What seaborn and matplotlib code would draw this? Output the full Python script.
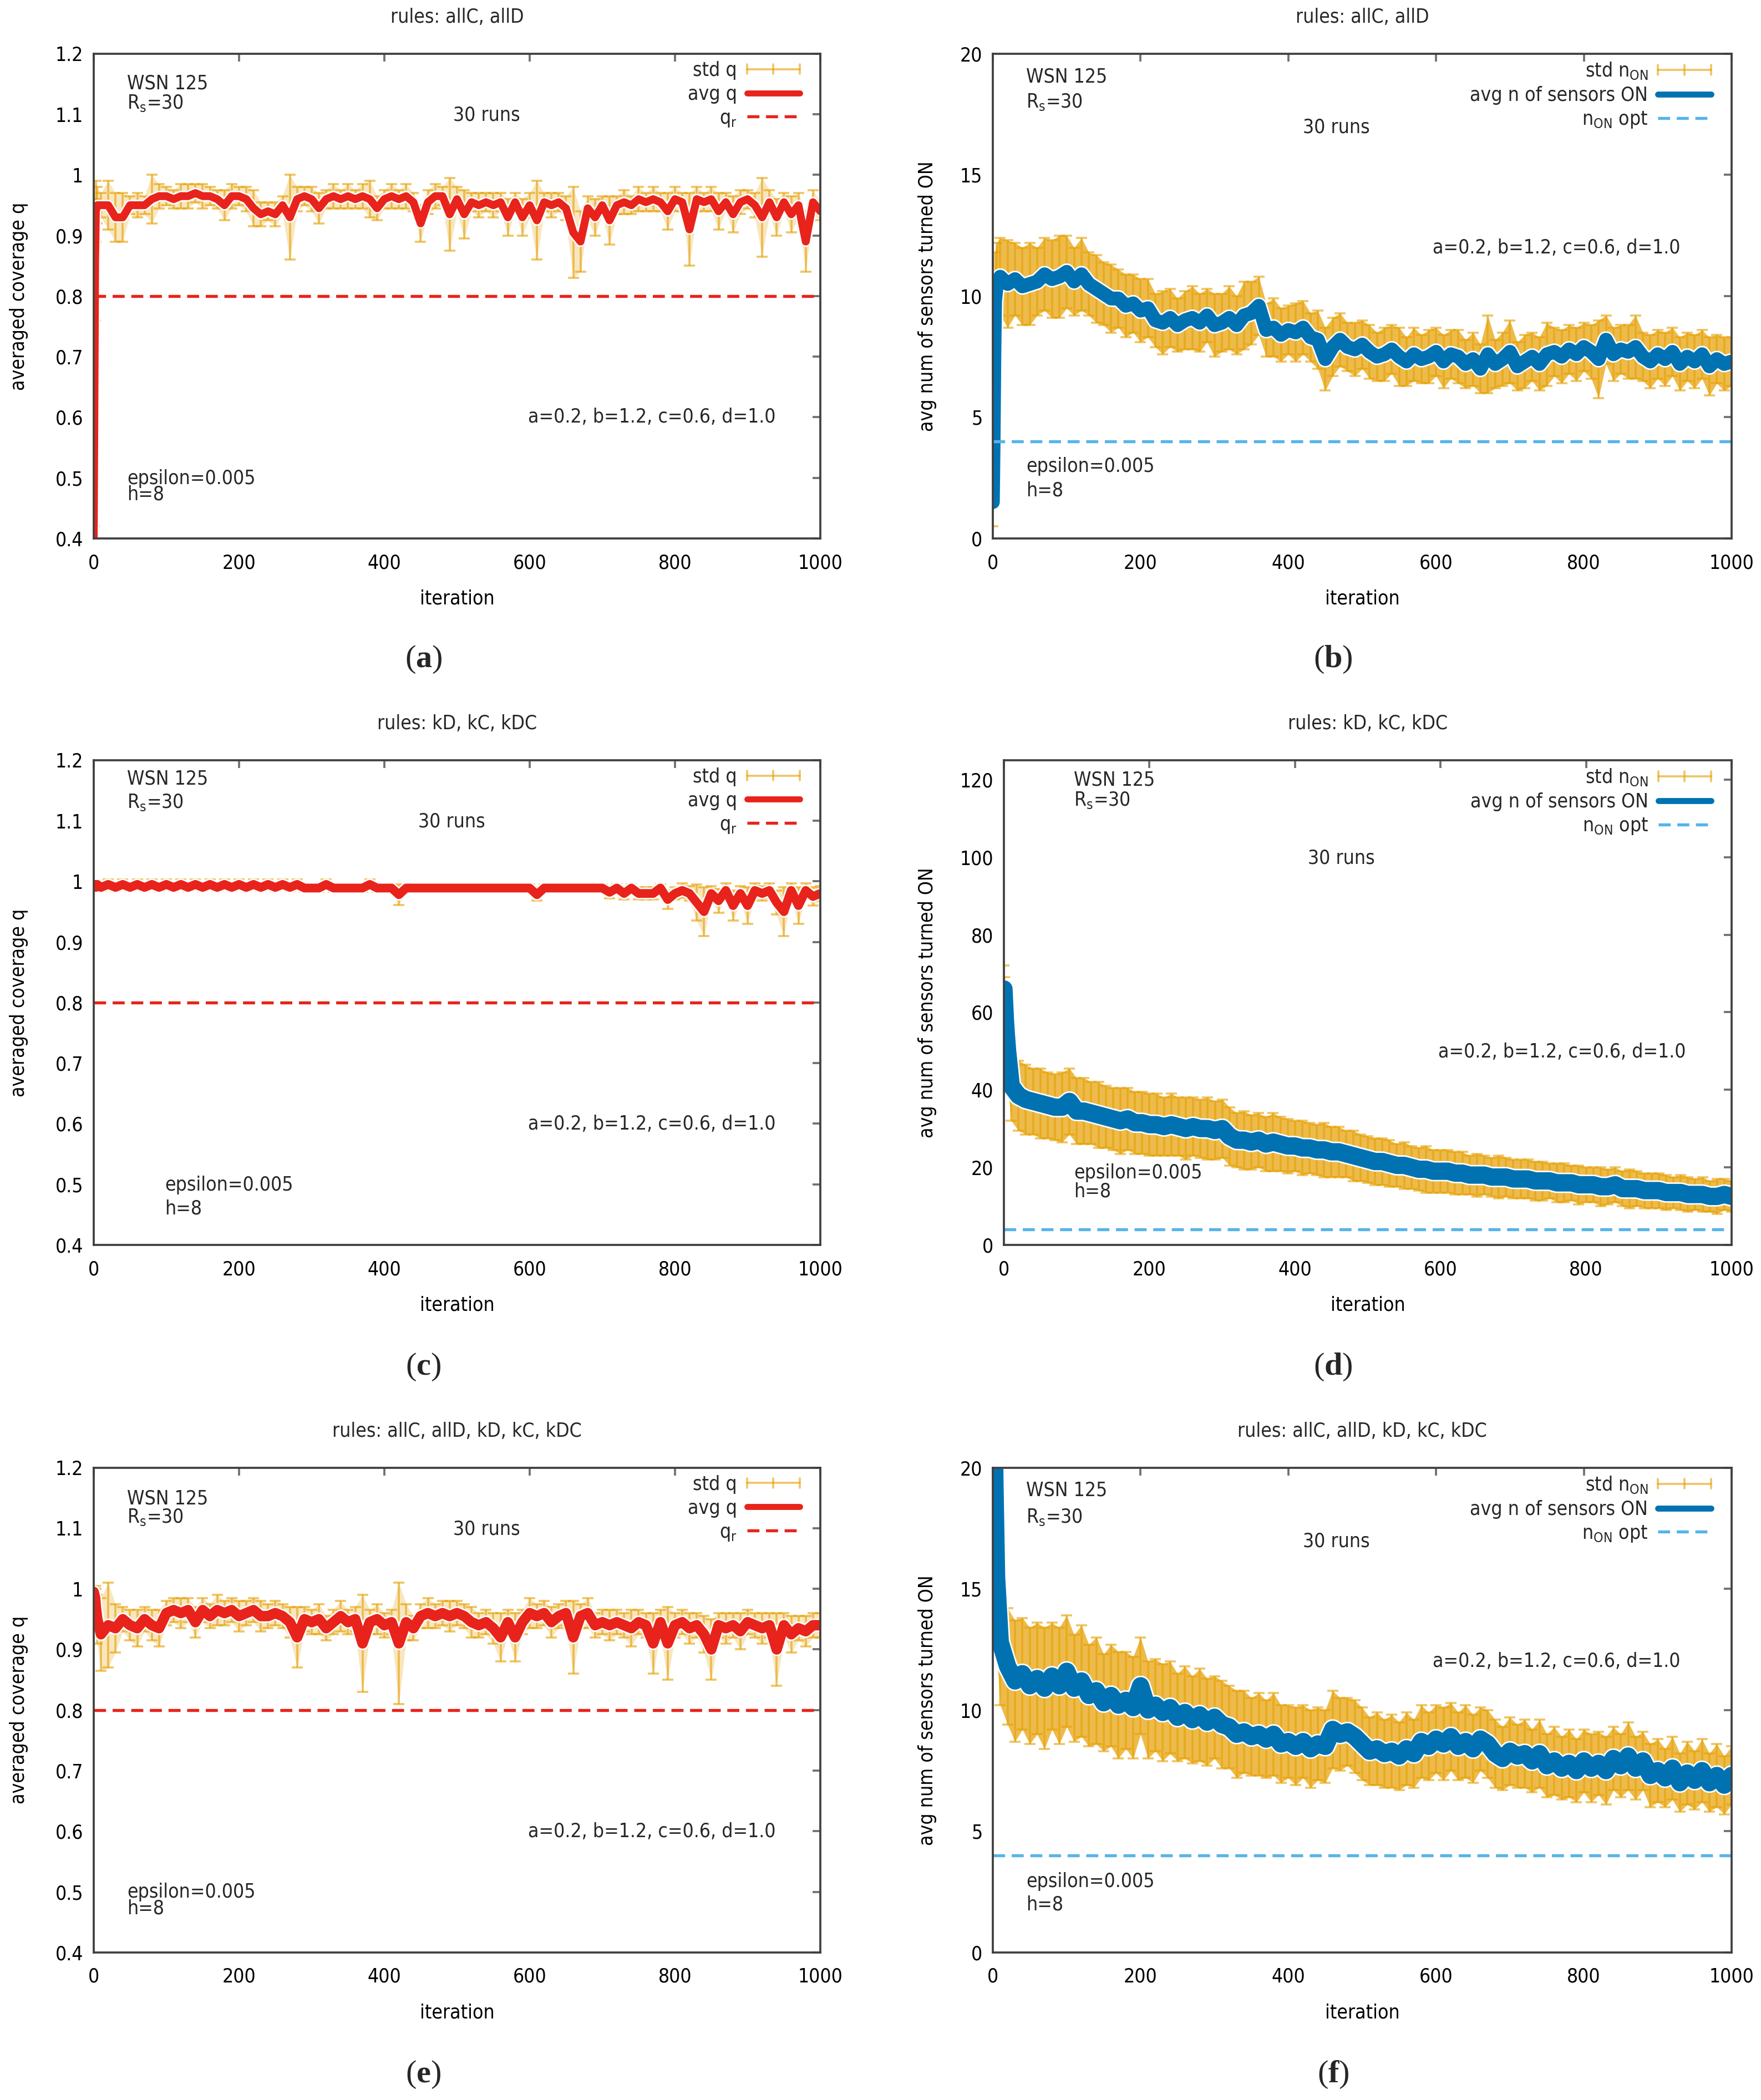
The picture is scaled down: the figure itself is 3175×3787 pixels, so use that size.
import numpy as np
import pandas as pd
import seaborn as sns
import matplotlib
matplotlib.use("Agg")
import matplotlib.pyplot as plt
from matplotlib.lines import Line2D
from matplotlib.legend_handler import HandlerBase
import matplotlib.patheffects as pe

# ---------------- data ----------------
ITER = [0, 1, 2, 3, 5] + list(range(10, 1001, 10))

A_MEAN = [0.38, 0.62, 0.86, 0.94, 0.95,
          0.95, 0.95, 0.93, 0.93, 0.95, 0.95, 0.95, 0.96, 0.965, 0.965,
          0.96, 0.965, 0.965, 0.97, 0.965, 0.965, 0.96, 0.95, 0.965, 0.965,
          0.96, 0.945, 0.935, 0.94, 0.935, 0.95, 0.93, 0.96, 0.965, 0.96,
          0.945, 0.96, 0.965, 0.96, 0.965, 0.96, 0.965, 0.96, 0.945, 0.96,
          0.965, 0.96, 0.965, 0.955, 0.92, 0.955, 0.965, 0.965, 0.935, 0.96,
          0.935, 0.955, 0.95, 0.955, 0.95, 0.955, 0.93, 0.955, 0.93, 0.95,
          0.925, 0.955, 0.95, 0.955, 0.945, 0.905, 0.89, 0.945, 0.93, 0.95,
          0.925, 0.95, 0.955, 0.95, 0.96, 0.955, 0.96, 0.955, 0.94, 0.96,
          0.955, 0.91, 0.96, 0.955, 0.96, 0.94, 0.955, 0.935, 0.955, 0.96,
          0.95, 0.93, 0.955, 0.93, 0.955, 0.935, 0.95, 0.89, 0.955, 0.94]
A_STD = [0.06, 0.2, 0.1, 0.05, 0.03,
         0.02, 0.04, 0.04, 0.04, 0.015, 0.02, 0.015, 0.04, 0.02, 0.015,
         0.015, 0.02, 0.02, 0.015, 0.02, 0.015, 0.015, 0.025, 0.02, 0.015,
         0.02, 0.03, 0.02, 0.015, 0.02, 0.015, 0.07, 0.02, 0.015, 0.02,
         0.025, 0.015, 0.02, 0.015, 0.02, 0.015, 0.02, 0.03, 0.02, 0.015,
         0.02, 0.015, 0.02, 0.015, 0.03, 0.02, 0.02, 0.015, 0.06, 0.02,
         0.04, 0.015, 0.02, 0.015, 0.02, 0.015, 0.03, 0.015, 0.03, 0.02,
         0.065, 0.015, 0.02, 0.015, 0.02, 0.075, 0.05, 0.02, 0.03, 0.015,
         0.04, 0.015, 0.02, 0.015, 0.02, 0.015, 0.02, 0.015, 0.03, 0.02,
         0.015, 0.06, 0.02, 0.015, 0.02, 0.03, 0.015, 0.03, 0.02, 0.015,
         0.02, 0.065, 0.02, 0.03, 0.015, 0.03, 0.02, 0.05, 0.02, 0.015]

B_MEAN = [1.5, 4.0, 7.5, 9.8, 10.4,
          10.8, 10.5, 10.7, 10.4, 10.5, 10.6, 10.9, 10.7, 10.8, 11.0,
          10.6, 10.9, 10.5, 10.3, 10.1, 9.9, 9.9, 9.6, 9.7, 9.4,
          9.5, 9.0, 8.9, 9.1, 8.8, 9.0, 9.1, 8.9, 9.2, 8.8,
          8.9, 9.1, 8.8, 9.2, 9.3, 9.6, 8.6, 8.7, 8.4, 8.6,
          8.5, 8.7, 8.3, 8.2, 7.4, 7.9, 8.2, 7.9, 7.8, 8.0,
          7.7, 7.5, 7.6, 7.8, 7.5, 7.3, 7.6, 7.4, 7.5, 7.7,
          7.3, 7.6, 7.5, 7.2, 7.4, 7.0, 7.6, 7.2, 7.4, 7.7,
          7.1, 7.3, 7.5, 7.2, 7.6, 7.7, 7.5, 7.8, 7.6, 7.9,
          7.7, 7.4, 8.2, 7.6, 7.8, 7.7, 7.9, 7.5, 7.3, 7.6,
          7.4, 7.7, 7.2, 7.5, 7.3, 7.6, 7.1, 7.4, 7.2, 7.3]
B_STD = [1.0, 1.5, 1.8, 2.0, 1.8,
         1.6, 1.8, 1.5, 1.6, 1.7, 1.4, 1.5, 1.6, 1.7, 1.5,
         1.4, 1.5, 1.3, 1.4, 1.3, 1.4, 1.2, 1.3, 1.2, 1.3,
         1.2, 1.1, 1.3, 1.2, 1.1, 1.2, 1.3, 1.2, 1.1, 1.3,
         1.2, 1.3, 1.2, 1.4, 1.3, 1.2, 1.1, 1.2, 1.1, 1.0,
         1.2, 1.1, 1.0, 1.2, 1.3, 1.2, 1.1, 1.0, 1.1, 1.0,
         1.1, 1.0, 1.1, 1.0, 1.2, 1.0, 1.1, 1.0, 1.1, 1.0,
         1.1, 1.0, 1.1, 1.0, 1.1, 1.0, 1.6, 1.0, 1.1, 1.3,
         1.0, 1.1, 1.0, 1.1, 1.3, 1.0, 1.1, 1.0, 1.1, 1.0,
         1.1, 1.6, 1.0, 1.1, 1.0, 1.1, 1.3, 1.0, 1.1, 1.0,
         1.1, 1.0, 1.1, 1.0, 1.1, 1.0, 1.2, 1.0, 1.1, 1.0]

C_MEAN = [0.995, 0.99, 0.995, 0.99, 0.995,
          0.99, 0.995, 0.99, 0.995, 0.99, 0.995, 0.99, 0.995, 0.99, 0.995,
          0.99, 0.995, 0.99, 0.995, 0.99, 0.995, 0.99, 0.995, 0.99, 0.995,
          0.99, 0.995, 0.99, 0.995, 0.99, 0.995, 0.99, 0.995, 0.989, 0.989,
          0.989, 0.995, 0.989, 0.989, 0.989, 0.989, 0.989, 0.995, 0.989, 0.989,
          0.989, 0.978, 0.989, 0.989, 0.989, 0.989, 0.989, 0.989, 0.989, 0.989,
          0.989, 0.989, 0.989, 0.989, 0.989, 0.989, 0.989, 0.989, 0.989, 0.989,
          0.978, 0.989, 0.989, 0.989, 0.989, 0.989, 0.989, 0.989, 0.989, 0.989,
          0.982, 0.989, 0.98, 0.989, 0.98, 0.98, 0.98, 0.989, 0.97, 0.98,
          0.985, 0.98, 0.965, 0.95, 0.98, 0.968, 0.985, 0.96, 0.98, 0.96,
          0.985, 0.98, 0.985, 0.965, 0.95, 0.985, 0.96, 0.985, 0.975, 0.98]
C_STD = [0.005, 0.005, 0.005, 0.005, 0.005,
         0.006, 0.008, 0.006, 0.008, 0.006, 0.008, 0.006, 0.008, 0.006, 0.008,
         0.006, 0.008, 0.006, 0.008, 0.006, 0.008, 0.006, 0.008, 0.006, 0.008,
         0.006, 0.008, 0.006, 0.008, 0.006, 0.008, 0.006, 0.008, 0.006, 0.006,
         0.006, 0.008, 0.006, 0.006, 0.006, 0.006, 0.006, 0.008, 0.006, 0.006,
         0.006, 0.017, 0.006, 0.006, 0.006, 0.006, 0.006, 0.006, 0.006, 0.006,
         0.006, 0.006, 0.006, 0.006, 0.006, 0.006, 0.006, 0.006, 0.006, 0.006,
         0.01, 0.006, 0.006, 0.006, 0.006, 0.006, 0.006, 0.006, 0.006, 0.006,
         0.01, 0.006, 0.01, 0.006, 0.01, 0.01, 0.01, 0.006, 0.015, 0.01,
         0.012, 0.012, 0.03, 0.04, 0.012, 0.02, 0.012, 0.025, 0.012, 0.03,
         0.012, 0.012, 0.012, 0.02, 0.04, 0.012, 0.03, 0.012, 0.015, 0.012]

D_MEAN = [66, 62, 58, 55, 50,
          41, 38.5, 37.5, 37, 36.5, 36, 35.5, 35.5, 37, 34.5,
          34.5, 34, 33.5, 33, 32.5, 32, 32.5, 31.5, 31.5, 31,
          31, 30.5, 31, 30.5, 30, 30.5, 30, 30, 29.5, 30,
          28, 27, 27, 26.5, 27, 26, 26.5, 26, 25.5, 25.5,
          25, 25, 24.5, 24.5, 24, 24, 23.5, 23, 22.5, 22,
          21.5, 21.5, 21, 20.5, 20.5, 20, 19.5, 19.5, 19, 19,
          19, 18.5, 18.5, 18, 18, 18, 17.5, 17.5, 17.5, 17,
          17, 17, 16.5, 16.5, 16.5, 16, 16, 16, 15.5, 15.5,
          15.5, 15, 15, 15.5, 14.5, 14.5, 14.5, 14, 14, 14,
          13.5, 13.5, 13.5, 13, 13, 13, 12.5, 12.5, 13, 12.5]
D_STD = [6, 7, 8, 8.5, 9,
         9, 9, 9, 8.5, 9, 8.5, 8.5, 9, 8.5, 8.5,
         8.5, 8, 8.5, 8, 8, 8.5, 8, 8, 8, 8,
         8, 7.5, 8, 7.5, 8, 7.5, 7.5, 8, 7.5, 7.5,
         7.5, 7, 7.5, 7, 7, 7, 7.5, 7, 7, 6.5,
         7, 6.5, 6.5, 7, 6.5, 6.5, 6, 6.5, 6, 6,
         6, 6, 6, 5.5, 6, 5.5, 5.5, 6, 5.5, 5.5,
         5.5, 5.5, 5.5, 5, 5.5, 5, 5, 5.5, 5, 5,
         5, 5, 5, 5, 4.5, 5, 5, 4.5, 5, 4.5,
         4.5, 5, 4.5, 4.5, 4.5, 5, 4.5, 4.5, 4.5, 4.5,
         4.5, 4, 4.5, 4.5, 4, 4.5, 4, 4.5, 4, 4]

E_MEAN = [0.995, 0.99, 0.985, 0.97, 0.95,
          0.925, 0.94, 0.935, 0.95, 0.94, 0.935, 0.95, 0.94, 0.935, 0.96,
          0.965, 0.96, 0.965, 0.945, 0.965, 0.955, 0.965, 0.96, 0.965, 0.955,
          0.96, 0.965, 0.955, 0.955, 0.96, 0.955, 0.945, 0.92, 0.95, 0.945,
          0.95, 0.935, 0.945, 0.955, 0.945, 0.95, 0.91, 0.945, 0.95, 0.94,
          0.945, 0.91, 0.945, 0.935, 0.955, 0.96, 0.955, 0.96, 0.955, 0.96,
          0.955, 0.945, 0.94, 0.945, 0.935, 0.92, 0.945, 0.92, 0.945, 0.96,
          0.955, 0.96, 0.945, 0.955, 0.96, 0.92, 0.955, 0.96, 0.94, 0.945,
          0.94, 0.945, 0.94, 0.935, 0.945, 0.94, 0.91, 0.945, 0.91, 0.94,
          0.945, 0.935, 0.94, 0.925, 0.9, 0.94, 0.935, 0.94, 0.93, 0.945,
          0.94, 0.935, 0.94, 0.9, 0.94, 0.925, 0.935, 0.93, 0.94, 0.94]
E_STD = [0.005, 0.01, 0.02, 0.03, 0.04,
         0.06, 0.07, 0.04, 0.02, 0.025, 0.03, 0.02, 0.025, 0.03, 0.02,
         0.02, 0.025, 0.02, 0.025, 0.02, 0.02, 0.025, 0.02, 0.02, 0.025,
         0.02, 0.02, 0.025, 0.02, 0.02, 0.02, 0.025, 0.05, 0.02, 0.02,
         0.025, 0.02, 0.02, 0.025, 0.02, 0.02, 0.08, 0.02, 0.025, 0.02,
         0.02, 0.1, 0.03, 0.02, 0.02, 0.025, 0.02, 0.02, 0.025, 0.02,
         0.02, 0.025, 0.02, 0.02, 0.025, 0.04, 0.02, 0.04, 0.02, 0.025,
         0.02, 0.02, 0.025, 0.02, 0.02, 0.06, 0.02, 0.025, 0.02, 0.02,
         0.025, 0.02, 0.02, 0.03, 0.02, 0.02, 0.05, 0.02, 0.06, 0.02,
         0.02, 0.025, 0.02, 0.03, 0.05, 0.02, 0.025, 0.02, 0.03, 0.02,
         0.02, 0.025, 0.02, 0.06, 0.02, 0.03, 0.02, 0.025, 0.02, 0.02]

F_MEAN = [24, 22, 21, 19, 15.5,
          12.8, 11.8, 11.2, 11.5, 11.0, 11.3, 10.9, 11.4, 11.0, 11.6,
          10.9, 11.2, 10.6, 10.8, 10.3, 10.6, 10.2, 10.4, 10.1, 11.0,
          10.0, 10.2, 9.9, 10.1, 9.7, 9.9, 9.6, 9.8, 9.5, 9.7,
          9.4, 9.3, 9.0, 9.1, 8.9, 9.0, 8.8, 9.0, 8.6, 8.7,
          8.5, 8.7, 8.4, 8.6, 8.5, 9.2, 9.0, 9.1, 8.9, 8.6,
          8.3, 8.4, 8.2, 8.3, 8.1, 8.4, 8.2, 8.7, 8.5, 8.8,
          8.6, 8.9, 8.5, 8.7, 8.4, 8.8, 8.6, 8.2, 8.0, 8.3,
          8.1, 8.2, 7.9, 8.2, 7.7, 7.9, 7.6, 7.8, 7.5, 7.9,
          7.6, 7.8, 7.5, 8.0, 7.7, 8.1, 7.6, 7.9, 7.3, 7.5,
          7.2, 7.6, 7.0, 7.4, 7.1, 7.5, 7.0, 7.3, 6.9, 7.3]
F_STD = [3.0, 3.5, 4.0, 3.5, 3.0,
         2.6, 2.4, 2.5, 2.3, 2.4, 2.3, 2.5, 2.2, 2.4, 2.3,
         2.2, 2.3, 2.1, 2.2, 2.0, 2.1, 2.2, 2.0, 2.1, 2.0,
         2.0, 1.9, 2.0, 1.9, 1.8, 1.9, 1.8, 1.9, 1.8, 1.7,
         1.8, 1.7, 1.8, 1.7, 1.6, 1.7, 1.6, 1.7, 1.6, 1.5,
         1.6, 1.5, 1.6, 1.5, 1.5, 1.6, 1.5, 1.4, 1.5, 1.5,
         1.4, 1.5, 1.4, 1.5, 1.4, 1.5, 1.4, 1.5, 1.4, 1.4,
         1.5, 1.4, 1.4, 1.5, 1.4, 1.3, 1.4, 1.4, 1.3, 1.4,
         1.3, 1.4, 1.3, 1.4, 1.3, 1.4, 1.3, 1.4, 1.3, 1.3,
         1.4, 1.3, 1.4, 1.3, 1.3, 1.4, 1.3, 1.2, 1.3, 1.3,
         1.2, 1.3, 1.2, 1.3, 1.2, 1.3, 1.2, 1.3, 1.2, 1.2]

Q_R = 0.8          # required coverage
N_ON_OPT = 4       # optimal number of sensors ON

TITLES = ["rules: allC, allD", "rules: allC, allD",
          "rules: kD, kC, kDC", "rules: kD, kC, kDC",
          "rules: allC, allD, kD, kC, kDC", "rules: allC, allD, kD, kC, kDC"]
CAPTIONS = ["a", "b", "c", "d", "e", "f"]
PARAMS_TEXT = "a=0.2, b=1.2, c=0.6, d=1.0"
COV_TICKS = [0.4, 0.5, 0.6, 0.7, 0.8, 0.9, 1.0, 1.1, 1.2]
N20_TICKS = [0, 5, 10, 15, 20]
N120_TICKS = [0, 20, 40, 60, 80, 100, 120]
X_TICKS = [0, 200, 400, 600, 800, 1000]

# ---------------- style ----------------
sns.set_theme(style="white")
plt.rcParams["font.family"] = ["DejaVu Sans"]
plt.rcParams["font.stretch"] = "condensed"
plt.rcParams["mathtext.fontset"] = "custom"
plt.rcParams["mathtext.bf"] = "Liberation Serif:bold"
FS = 8.5
ORANGE = "#E69F00"
RED = "#E8231B"
BLUE = "#0072B2"
LBLUE = "#56B4E9"
FRAME = "#404040"
ERR_ALPHA = 0.6
LEG_LW = 2.6


class HandlerStd(HandlerBase):
    def create_artists(self, legend, orig_handle, xdescent, ydescent,
                       width, height, fontsize, trans):
        x0 = -xdescent
        x1 = x0 + width
        xm = 0.5 * (x0 + x1)
        yc = (height - ydescent) / 2.0
        hh = 0.35 * height
        arts = [Line2D([x0, x1], [yc, yc])]
        for xx in (x0, xm, x1):
            arts.append(Line2D([xx, xx], [yc - hh, yc + hh]))
        for a in arts:
            a.set_color(ORANGE)
            a.set_alpha(ERR_ALPHA)
            a.set_linewidth(0.9)
            a.set_transform(trans)
        return arts


W, H = 3175, 3787
fig = plt.figure(figsize=(W / 300, H / 300), dpi=300)

rows_y = [0.7436, 0.4072, 0.0703]
AX_H = 0.2308
boxes = [
    [0.0532, rows_y[0], 0.4126, AX_H], [0.5638, rows_y[0], 0.4195, AX_H],
    [0.0532, rows_y[1], 0.4126, AX_H], [0.5701, rows_y[1], 0.4132, AX_H],
    [0.0532, rows_y[2], 0.4126, AX_H], [0.5638, rows_y[2], 0.4195, AX_H],
]

panels = [
    dict(mean=A_MEAN, std=A_STD, kind="cov", lw=3.4,
         wsn=(0.046, 0.939, 0.898), runs=(0.541, 0.873), par=(0.598, 0.251),
         eps=(0.046, 0.124, 0.091), ylx=-0.103),
    dict(mean=B_MEAN, std=B_STD, kind="n20", lw=6.0,
         wsn=(0.045, 0.953, 0.900), runs=(0.465, 0.848), par=(0.595, 0.600),
         eps=(0.045, 0.149, 0.099), ylx=-0.089),
    dict(mean=C_MEAN, std=C_STD, kind="cov", lw=3.8,
         wsn=(0.046, 0.961, 0.912), runs=(0.493, 0.873), par=(0.598, 0.249),
         eps=(0.098, 0.124, 0.075), ylx=-0.103),
    dict(mean=D_MEAN, std=D_STD, kind="n120", lw=7.5,
         wsn=(0.096, 0.959, 0.917), runs=(0.464, 0.798), par=(0.597, 0.398),
         eps=(0.096, 0.149, 0.110), ylx=-0.105),
    dict(mean=E_MEAN, std=E_STD, kind="cov", lw=4.5,
         wsn=(0.046, 0.936, 0.898), runs=(0.541, 0.873), par=(0.598, 0.249),
         eps=(0.046, 0.124, 0.091), ylx=-0.103),
    dict(mean=F_MEAN, std=F_STD, kind="n20", lw=7.5,
         wsn=(0.045, 0.953, 0.898), runs=(0.465, 0.848), par=(0.595, 0.600),
         eps=(0.045, 0.146, 0.099), ylx=-0.089),
]

cap_pos = [(0.2405, 0.686), (0.757, 0.686), (0.2405, 0.349), (0.757, 0.349),
           (0.2405, 0.012), (0.757, 0.012)]

DASH = (0, (4.0, 2.2))

for i, p in enumerate(panels):
    ax = fig.add_axes(boxes[i])
    df = pd.DataFrame({"iteration": ITER, "value": p["mean"], "std": p["std"]})
    df["lo"] = df["value"] - df["std"]
    df["hi"] = df["value"] + df["std"]
    if p["kind"] == "cov":
        col, ref, refcol = RED, Q_R, RED
        ylim, yt = (0.4, 1.2), COV_TICKS
        ylab = "averaged coverage q"
        labels = ["std q", "avg q", r"$\mathregular{q_r}$"]
        fill_alpha = 0.25
    else:
        col, ref, refcol = BLUE, N_ON_OPT, LBLUE
        if p["kind"] == "n20":
            ylim, yt = (0, 20), N20_TICKS
        else:
            ylim, yt = (0, 125), N120_TICKS
        ylab = "avg num of sensors turned ON"
        labels = [r"std $\mathregular{n_{ON}}$", "avg n of sensors ON",
                  r"$\mathregular{n_{ON}}$ opt"]
        fill_alpha = 0.7

    # dense std band (gnuplot drew one error bar per iteration)
    ax.fill_between(df["iteration"], df["lo"], df["hi"], color=ORANGE,
                    alpha=fill_alpha, lw=0, zorder=1)
    ax.errorbar(df["iteration"], df["value"], yerr=df["std"], fmt="none",
                ecolor=ORANGE, elinewidth=0.9, capsize=2.3, capthick=0.9,
                alpha=ERR_ALPHA, zorder=2)
    line_fx = [pe.Stroke(linewidth=p["lw"] + 1.3, foreground="white"), pe.Normal()]
    sns.lineplot(data=df, x="iteration", y="value", ax=ax, color=col,
                 linewidth=p["lw"], estimator=None, legend=False, zorder=3,
                 path_effects=line_fx)
    ax.axhline(ref, color=refcol, lw=1.3, ls=DASH, zorder=4)

    ax.set_xlim(0, 1000)
    ax.set_ylim(*ylim)
    ax.set_xticks(X_TICKS)
    ax.set_yticks(yt)
    ax.set_yticklabels(["%g" % v for v in yt])
    ax.tick_params(axis="both", direction="in", length=3.4, width=0.9,
                   color="#707070", top=True, right=True, labelsize=FS,
                   labelcolor="black")
    ax.tick_params(axis="x", pad=6.5)
    ax.tick_params(axis="y", pad=4.5)
    for s in ax.spines.values():
        s.set_color(FRAME)
        s.set_linewidth(0.9)
        s.set_visible(True)
        s.set_zorder(5)
    ax.grid(False)

    ax.set_xlabel("iteration", fontsize=FS, color="black")
    ax.xaxis.set_label_coords(0.5, -0.124)
    ax.xaxis.label.set_verticalalignment("center")
    ax.set_ylabel(ylab, fontsize=FS, color="black")
    ax.yaxis.set_label_coords(p["ylx"], 0.5)
    ax.yaxis.label.set_verticalalignment("center")

    ax.text(0.5, 1.075, TITLES[i], transform=ax.transAxes, ha="center",
            va="center", fontsize=FS)

    tk = dict(transform=ax.transAxes, fontsize=FS, va="center", zorder=6)
    wx, wy1, wy2 = p["wsn"]
    ax.text(wx, wy1, "WSN 125", ha="left", **tk)
    ax.text(wx, wy2, r"$\mathregular{R_s}$=30", ha="left", **tk)
    ax.text(p["runs"][0], p["runs"][1], "30 runs", ha="center", **tk)
    ax.text(p["par"][0], p["par"][1], PARAMS_TEXT, ha="left", **tk)
    ex, ey1, ey2 = p["eps"]
    ax.text(ex, ey1, "epsilon=0.005", ha="left", **tk)
    ax.text(ex, ey2, "h=8", ha="left", **tk)

    h_std = Line2D([], [], color=ORANGE)
    h_avg = Line2D([], [], color=col, lw=LEG_LW,
                   path_effects=[pe.Stroke(linewidth=LEG_LW + 1.2, foreground="white"),
                                 pe.Normal()])
    h_ref = Line2D([], [], color=refcol, lw=1.3, ls=DASH)
    ax.legend([h_std, h_avg, h_ref], labels, loc="upper right",
              bbox_to_anchor=(0.972, 0.985), frameon=False, markerfirst=False,
              handlelength=2.7, handletextpad=0.5, labelspacing=0.25,
              borderaxespad=0, borderpad=0, fontsize=FS,
              handler_map={h_std: HandlerStd()})

    fig.text(cap_pos[i][0], cap_pos[i][1], r"($\mathbf{%s}$)" % CAPTIONS[i],
             family="Liberation Serif", fontsize=14, ha="center", va="center")

fig.savefig("out.png", dpi=300, facecolor="white")
